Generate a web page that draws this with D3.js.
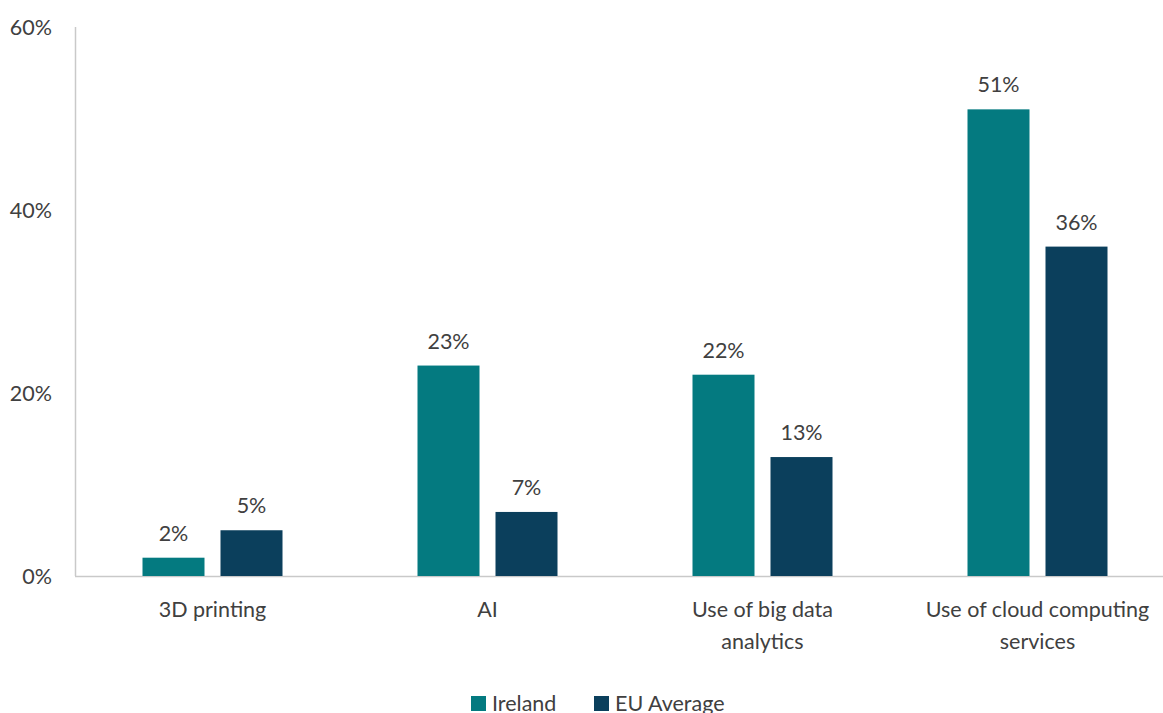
<!DOCTYPE html>
<html><head><meta charset="utf-8">
<script src="https://cdn.jsdelivr.net/npm/d3@7"></script>
<style>body{margin:0;background:#fff}svg{display:block}text{font-family:Lato,"Open Sans",sans-serif;fill:#404040}</style>
</head><body><svg id="c" width="1163" height="713"></svg>
<script>
const categories = ["3D printing","AI","Use of big data analytics","Use of cloud computing services"];
const categoryLines = [["3D printing"],["AI"],["Use of big data","analytics"],["Use of cloud computing","services"]];
const seriesNames = ["Ireland","EU Average"];
const ireland = [2,23,22,51];
const euAverage = [5,7,13,36];
const yTicks = [0,20,40,60];
const colors = ["#047a80","#0b3f5c"];

const svg = d3.select("#c");
const x0 = 75, y0 = 576, yTop = 27;
const fs = "21.5px";
const x = d3.scaleBand().domain(categories).range([x0, x0+1100]).paddingInner(0).paddingOuter(0);
const y = d3.scaleLinear().domain([0,60]).range([y0, yTop]);
const xs = d3.scaleBand().domain(seriesNames).range([0,140]).paddingInner(16/78);

// axes
svg.append("line").attr("x1",x0+0.5).attr("x2",x0+0.5).attr("y1",yTop).attr("y2",y0).attr("stroke","#c9c9c9").attr("stroke-width",1.5);
svg.append("line").attr("x1",x0).attr("x2",1163).attr("y1",y0+0.5).attr("y2",y0+0.5).attr("stroke","#c9c9c9").attr("stroke-width",1.5);

svg.selectAll(".yt").data(yTicks).enter().append("text")
  .attr("x",52).attr("y",d=>y(d)).attr("dy","0.35em").attr("text-anchor","end")
  .style("font-size",fs).text(d=>d+"%");

const series = [ireland, euAverage];
series.forEach((vals,si)=>{
  const g = svg.append("g");
  g.selectAll("rect").data(categories).enter().append("rect")
    .attr("x",(c)=>x(c)+(x.bandwidth()-140)/2+xs(seriesNames[si]))
    .attr("width",xs.bandwidth())
    .attr("y",(c,i)=>y(vals[i]))
    .attr("height",(c,i)=>y0-y(vals[i]))
    .attr("fill",colors[si]);
  g.selectAll("text").data(categories).enter().append("text")
    .attr("x",(c)=>x(c)+(x.bandwidth()-140)/2+xs(seriesNames[si])+xs.bandwidth()/2)
    .attr("y",(c,i)=>y(vals[i])-17)
    .attr("text-anchor","middle").style("font-size",fs)
    .text((c,i)=>vals[i]+"%");
});

categories.forEach((c,i)=>{
  const t = svg.append("text").attr("text-anchor","middle").style("font-size",fs)
    .attr("x", x(c)+x.bandwidth()/2).attr("y", 617);
  categoryLines[i].forEach((l,j)=>t.append("tspan").attr("x",x(c)+x.bandwidth()/2).attr("dy", j?32:0).text(l));
});

// legend
const leg = [{n:seriesNames[0],x:471},{n:seriesNames[1],x:594}];
leg.forEach((d,i)=>{
  svg.append("rect").attr("x",d.x).attr("y",696).attr("width",15).attr("height",15).attr("fill",colors[i]);
  svg.append("text").attr("x",d.x+21).attr("y",711).style("font-size",fs).text(d.n);
});
</script></body></html>
